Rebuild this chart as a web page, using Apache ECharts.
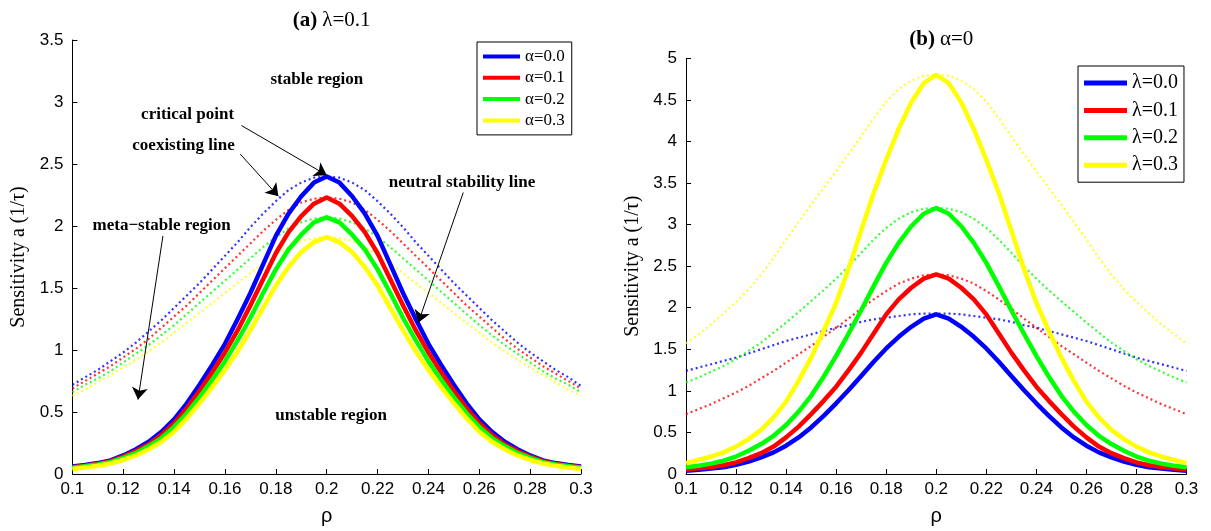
<!DOCTYPE html>
<html>
<head>
<meta charset="utf-8">
<title>Neutral stability and coexisting curves</title>
<script src="https://cdn.jsdelivr.net/npm/echarts@6/dist/echarts.min.js"></script>
<style>
  html, body { margin: 0; padding: 0; background: #fff; }
  #chart { width: 1211px; height: 531px; }
</style>
</head>
<body>
<div id="chart"></div>
<script>
// Density grid shared by every curve
const rho = [0.1, 0.105, 0.11, 0.115, 0.12, 0.125, 0.13, 0.135, 0.14, 0.145,
             0.15, 0.155, 0.16, 0.165, 0.17, 0.175, 0.18, 0.185, 0.19, 0.195,
             0.2, 0.205, 0.21, 0.215, 0.22, 0.225, 0.23, 0.235, 0.24, 0.245,
             0.25, 0.255, 0.26, 0.265, 0.27, 0.275, 0.28, 0.285, 0.29, 0.295, 0.3];

// Panel (a), lambda = 0.1: neutral stability lines (solid)
const neutralAlpha00 = [0.06, 0.072, 0.088, 0.11, 0.15, 0.2, 0.26, 0.34, 0.44, 0.57, 0.72, 0.88, 1.05, 1.25, 1.46, 1.69, 1.92, 2.1, 2.24, 2.35, 2.4,
                        2.35, 2.24, 2.1, 1.92, 1.69, 1.46, 1.25, 1.05, 0.88, 0.72, 0.57, 0.44, 0.34, 0.26, 0.2, 0.15, 0.11, 0.088, 0.072, 0.06];
const neutralAlpha01 = [0.055, 0.067, 0.082, 0.103, 0.14, 0.185, 0.24, 0.315, 0.41, 0.53, 0.67, 0.82, 0.98, 1.16, 1.36, 1.57, 1.78, 1.95, 2.08, 2.18, 2.23,
                        2.18, 2.08, 1.95, 1.78, 1.57, 1.36, 1.16, 0.98, 0.82, 0.67, 0.53, 0.41, 0.315, 0.24, 0.185, 0.14, 0.103, 0.082, 0.067, 0.055];
const neutralAlpha02 = [0.05, 0.062, 0.076, 0.095, 0.13, 0.17, 0.225, 0.29, 0.38, 0.49, 0.62, 0.76, 0.91, 1.08, 1.26, 1.46, 1.65, 1.81, 1.93, 2.03, 2.07,
                        2.03, 1.93, 1.81, 1.65, 1.46, 1.26, 1.08, 0.91, 0.76, 0.62, 0.49, 0.38, 0.29, 0.225, 0.17, 0.13, 0.095, 0.076, 0.062, 0.05];
const neutralAlpha03 = [0.04, 0.052, 0.066, 0.085, 0.113, 0.15, 0.2, 0.26, 0.34, 0.45, 0.57, 0.7, 0.84, 0.99, 1.16, 1.34, 1.52, 1.67, 1.79, 1.87, 1.91,
                        1.87, 1.79, 1.67, 1.52, 1.34, 1.16, 0.99, 0.84, 0.7, 0.57, 0.45, 0.34, 0.26, 0.2, 0.15, 0.113, 0.085, 0.066, 0.052, 0.04];

// Panel (a): coexisting lines (dotted)
const coexistAlpha00 = [0.72, 0.78, 0.84, 0.91, 0.98, 1.06, 1.15, 1.24, 1.34, 1.44, 1.54, 1.65, 1.76, 1.87, 1.99, 2.1, 2.2, 2.29, 2.35, 2.39, 2.4,
                        2.39, 2.35, 2.29, 2.2, 2.1, 1.99, 1.87, 1.76, 1.65, 1.54, 1.44, 1.34, 1.24, 1.15, 1.06, 0.98, 0.91, 0.84, 0.78, 0.71];
const coexistAlpha01 = [0.69, 0.75, 0.81, 0.87, 0.94, 1.01, 1.09, 1.18, 1.27, 1.36, 1.46, 1.56, 1.66, 1.76, 1.86, 1.96, 2.05, 2.13, 2.19, 2.22, 2.23,
                        2.22, 2.19, 2.13, 2.05, 1.96, 1.86, 1.76, 1.66, 1.56, 1.46, 1.36, 1.27, 1.18, 1.09, 1.01, 0.94, 0.87, 0.81, 0.75, 0.69];
const coexistAlpha02 = [0.66, 0.72, 0.77, 0.83, 0.9, 0.97, 1.04, 1.12, 1.2, 1.29, 1.38, 1.47, 1.56, 1.65, 1.74, 1.83, 1.91, 1.98, 2.03, 2.06, 2.07,
                        2.06, 2.03, 1.98, 1.91, 1.83, 1.74, 1.65, 1.56, 1.47, 1.38, 1.29, 1.2, 1.12, 1.04, 0.97, 0.9, 0.83, 0.77, 0.72, 0.66];
const coexistAlpha03 = [0.63, 0.68, 0.74, 0.8, 0.86, 0.92, 0.99, 1.06, 1.14, 1.22, 1.3, 1.38, 1.46, 1.54, 1.62, 1.7, 1.77, 1.83, 1.88, 1.9, 1.91,
                        1.9, 1.88, 1.83, 1.77, 1.7, 1.62, 1.54, 1.46, 1.38, 1.3, 1.22, 1.14, 1.06, 0.99, 0.92, 0.86, 0.8, 0.74, 0.68, 0.63];

// Panel (b), alpha = 0: neutral stability lines (solid)
const neutralLambda00 = [0.04, 0.05, 0.065, 0.08, 0.11, 0.15, 0.2, 0.26, 0.34, 0.44, 0.56, 0.7, 0.85, 1.01, 1.18, 1.35, 1.51, 1.65, 1.77, 1.87, 1.92,
                         1.87, 1.77, 1.65, 1.51, 1.35, 1.18, 1.01, 0.85, 0.7, 0.56, 0.44, 0.34, 0.26, 0.2, 0.15, 0.11, 0.08, 0.065, 0.05, 0.04];
const neutralLambda01 = [0.055, 0.068, 0.085, 0.105, 0.14, 0.19, 0.25, 0.33, 0.44, 0.57, 0.72, 0.88, 1.05, 1.25, 1.46, 1.69, 1.92, 2.1, 2.24, 2.35, 2.4,
                         2.35, 2.24, 2.1, 1.92, 1.69, 1.46, 1.25, 1.05, 0.88, 0.72, 0.57, 0.44, 0.33, 0.25, 0.19, 0.14, 0.105, 0.085, 0.068, 0.055];
const neutralLambda02 = [0.08, 0.1, 0.125, 0.16, 0.21, 0.28, 0.36, 0.46, 0.59, 0.75, 0.94, 1.17, 1.42, 1.69, 1.97, 2.26, 2.54, 2.78, 2.98, 3.13, 3.2,
                         3.13, 2.98, 2.78, 2.54, 2.26, 1.97, 1.69, 1.42, 1.17, 0.94, 0.75, 0.59, 0.46, 0.36, 0.28, 0.21, 0.16, 0.125, 0.1, 0.08];
const neutralLambda03 = [0.13, 0.17, 0.21, 0.26, 0.33, 0.42, 0.53, 0.68, 0.87, 1.12, 1.4, 1.72, 2.06, 2.47, 2.93, 3.38, 3.78, 4.15, 4.47, 4.7, 4.8,
                         4.7, 4.47, 4.15, 3.78, 3.38, 2.93, 2.47, 2.06, 1.72, 1.4, 1.12, 0.87, 0.68, 0.53, 0.42, 0.33, 0.26, 0.21, 0.17, 0.13];

// Panel (b): coexisting lines (dotted)
const coexistLambda00 = [1.24, 1.28, 1.32, 1.36, 1.4, 1.45, 1.5, 1.55, 1.6, 1.64, 1.68, 1.72, 1.76, 1.79, 1.83, 1.86, 1.88, 1.9, 1.92, 1.93, 1.93,
                         1.93, 1.92, 1.9, 1.88, 1.86, 1.83, 1.79, 1.76, 1.72, 1.68, 1.64, 1.6, 1.55, 1.5, 1.45, 1.4, 1.36, 1.32, 1.28, 1.24];
const coexistLambda01 = [0.72, 0.78, 0.84, 0.91, 0.98, 1.06, 1.15, 1.24, 1.34, 1.44, 1.54, 1.65, 1.76, 1.87, 1.99, 2.1, 2.2, 2.29, 2.35, 2.39, 2.4,
                         2.39, 2.35, 2.29, 2.2, 2.1, 1.99, 1.87, 1.76, 1.65, 1.54, 1.44, 1.34, 1.24, 1.15, 1.06, 0.98, 0.91, 0.84, 0.78, 0.72];
const coexistLambda02 = [1.1, 1.16, 1.23, 1.3, 1.38, 1.48, 1.58, 1.7, 1.82, 1.95, 2.08, 2.21, 2.35, 2.5, 2.66, 2.82, 2.96, 3.07, 3.15, 3.19, 3.2,
                         3.19, 3.15, 3.07, 2.96, 2.82, 2.66, 2.5, 2.35, 2.21, 2.08, 1.95, 1.82, 1.7, 1.58, 1.48, 1.38, 1.3, 1.23, 1.16, 1.1];
const coexistLambda03 = [1.57, 1.68, 1.8, 1.93, 2.07, 2.22, 2.4, 2.6, 2.82, 3.03, 3.24, 3.44, 3.64, 3.85, 4.06, 4.28, 4.48, 4.63, 4.73, 4.79, 4.8,
                         4.79, 4.73, 4.63, 4.48, 4.28, 4.06, 3.85, 3.64, 3.44, 3.24, 3.03, 2.82, 2.6, 2.4, 2.22, 2.07, 1.93, 1.8, 1.68, 1.57];

// Legend labels and curve colours
const alphaLabels = ['α=0.0', 'α=0.1', 'α=0.2', 'α=0.3'];
const lambdaLabels = ['λ=0.0', 'λ=0.1', 'λ=0.2', 'λ=0.3'];
const curveColors = ['#0000ff', '#ff0000', '#00ff00', '#ffff00'];

// Region labels and arrows of panel (a), in (rho, a) coordinates
const regionNotes = [
  { text: 'stable region',          at: [0.1961, 3.18] },
  { text: 'critical point',         at: [0.1453, 2.90] },
  { text: 'coexisting line',        at: [0.1437, 2.65] },
  { text: 'neutral stability line', at: [0.2532, 2.35] },
  { text: 'meta\u2212stable region', at: [0.1351, 2.00] },
  { text: 'unstable region',        at: [0.2017, 0.47] }
];
const noteArrows = [
  [[0.1665, 2.81], [0.2, 2.41]],
  [[0.166, 2.58], [0.181, 2.24]],
  [[0.2537, 2.27], [0.236, 1.22]],
  [[0.1356, 1.92], [0.1258, 0.60]]
];

const SERIF = '"Liberation Serif", "Times New Roman", Times, serif';
const SANS = '"Liberation Sans", Arial, Helvetica, sans-serif';

const toPairs = vals => rho.map((r, i) => [r, vals[i]]);

function curve(name, panel, vals, color, dotted) {
  return {
    name: name,
    type: 'line',
    xAxisIndex: panel,
    yAxisIndex: panel,
    data: toPairs(vals),
    showSymbol: false,
    symbol: 'none',
    silent: true,
    animation: false,
    z: dotted ? 2 : 3,
    itemStyle: { color: color },
    lineStyle: dotted
      ? { color: color, width: 2.2, type: [2, 3], opacity: 0.8, cap: 'butt' }
      : { color: color, width: 4.5, cap: 'butt', join: 'round' }
  };
}

function xAxisFor(panel) {
  return {
    gridIndex: panel, type: 'value', min: 0.1, max: 0.3, interval: 0.02,
    name: 'ρ', nameLocation: 'middle', nameGap: 32,
    nameTextStyle: { fontFamily: SANS, fontSize: 20, color: '#000' },
    axisLine: { onZero: false, lineStyle: { color: '#000', width: 1 } },
    axisTick: { inside: true, length: 5, lineStyle: { color: '#000', width: 1 } },
    axisLabel: { fontFamily: SANS, fontSize: 17, color: '#000', margin: 7 },
    splitLine: { show: false }
  };
}

function yAxisFor(panel, max, gap) {
  return {
    gridIndex: panel, type: 'value', min: 0, max: max, interval: 0.5,
    name: 'Sensitivity a (1/τ)', nameLocation: 'middle', nameRotate: 90, nameGap: gap,
    nameTextStyle: { fontFamily: SERIF, fontSize: 20, color: '#000' },
    axisLine: { show: true, onZero: false, lineStyle: { color: '#000', width: 1 } },
    axisTick: { show: true, inside: true, length: 5, lineStyle: { color: '#000', width: 1 } },
    axisLabel: { fontFamily: SANS, fontSize: 17, color: '#000', margin: 9 },
    splitLine: { show: false }
  };
}

const seriesList = [];
const neutralA = [neutralAlpha00, neutralAlpha01, neutralAlpha02, neutralAlpha03];
const coexistA = [coexistAlpha00, coexistAlpha01, coexistAlpha02, coexistAlpha03];
const neutralB = [neutralLambda00, neutralLambda01, neutralLambda02, neutralLambda03];
const coexistB = [coexistLambda00, coexistLambda01, coexistLambda02, coexistLambda03];

for (let i = 0; i < 4; i++) {
  seriesList.push(curve(alphaLabels[i], 0, neutralA[i], curveColors[i], false));
}
for (let i = 0; i < 4; i++) {
  seriesList.push(curve(alphaLabels[i] + ' coexisting', 0, coexistA[i], curveColors[i], true));
}
for (let i = 0; i < 4; i++) {
  seriesList.push(curve(lambdaLabels[i], 1, neutralB[i], curveColors[i], false));
}
for (let i = 0; i < 4; i++) {
  seriesList.push(curve(lambdaLabels[i] + ' coexisting', 1, coexistB[i], curveColors[i], true));
}

// Annotation arrows ride on the first curve of panel (a)
seriesList[0].markLine = {
  silent: true,
  animation: false,
  symbol: ['none', 'arrow'],
  symbolSize: 12,
  label: { show: false },
  lineStyle: { color: '#000', width: 1, type: 'solid' },
  emphasis: { disabled: true },
  data: noteArrows.map(a => [{ coord: a[0] }, { coord: a[1] }])
};

const titleRich = size => ({
  b: { fontFamily: SERIF, fontWeight: 'bold', fontSize: size, color: '#000' },
  n: { fontFamily: SERIF, fontWeight: 'normal', fontSize: size, color: '#000' }
});

const option = {
  animation: false,
  backgroundColor: '#fff',
  title: [
    { text: '{b|(a)} {n|λ=0.1}', left: 326.7, top: 5, textAlign: 'center',
      textStyle: { rich: titleRich(21) } },
    { text: '{b|(b)} {n|α=0}', left: 936.3, top: 24, textAlign: 'center',
      textStyle: { rich: titleRich(21) } }
  ],
  grid: [
    { left: 72.4, right: 1211 - 581, top: 40, bottom: 531 - 474.3, containLabel: false },
    { left: 686, right: 1211 - 1186.5, top: 58.3, bottom: 531 - 475, containLabel: false }
  ],
  xAxis: [xAxisFor(0), xAxisFor(1)],
  yAxis: [yAxisFor(0, 3.5, 44), yAxisFor(1, 5, 43)],
  legend: [
    { data: alphaLabels, orient: 'vertical', left: 477, top: 42,
      padding: [6, 7, 6, 6], itemGap: 4.3, itemWidth: 37, itemHeight: 4, icon: 'rect',
      borderColor: '#000', borderWidth: 1, backgroundColor: '#fff', selectedMode: false,
      textStyle: { fontFamily: SERIF, fontSize: 17, lineHeight: 17, color: '#000' } },
    { data: lambdaLabels, orient: 'vertical', left: 1078, top: 66,
      padding: [7, 6, 7, 6], itemGap: 7.4, itemWidth: 43, itemHeight: 5, icon: 'rect',
      borderColor: '#000', borderWidth: 1, backgroundColor: '#fff', selectedMode: false,
      textStyle: { fontFamily: SERIF, fontSize: 20, lineHeight: 20, color: '#000' } }
  ],
  series: seriesList
};

const chart = echarts.init(document.getElementById('chart'), null, { renderer: 'canvas' });
chart.setOption(option);

// Place the region labels through the grid's own coordinate system
chart.setOption({
  graphic: regionNotes.map(n => {
    const p = chart.convertToPixel({ gridIndex: 0 }, n.at);
    return {
      type: 'text', x: p[0], y: p[1], silent: true, z: 10,
      style: { text: n.text, fill: '#000', align: 'center', verticalAlign: 'middle',
               font: 'bold 17px ' + SERIF }
    };
  })
});
</script>
</body>
</html>
